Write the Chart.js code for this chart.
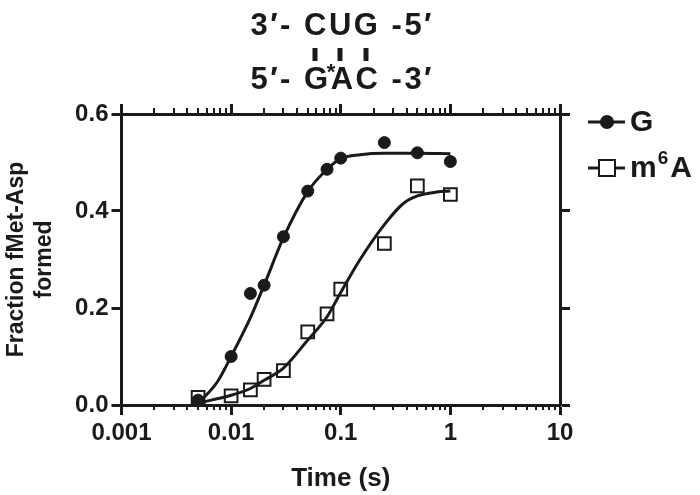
<!DOCTYPE html>
<html lang="en">
<head>
    <meta charset="UTF-8">
    <title>Fraction fMet-Asp formed</title>
    <script src="https://cdn.jsdelivr.net/npm/chart.js"></script>
    <style>
        html, body { margin: 0; padding: 0; background: #fff; }
    </style>
</head>
<body>
    <canvas id="kineticsChart" width="700" height="495"></canvas>
    <script>
        // measured points (time in s, fraction formed)
        const timeG = [0.005, 0.01, 0.015, 0.02, 0.03, 0.05, 0.075, 0.1, 0.25, 0.5, 1];
        const fracG = [0.01, 0.10, 0.23, 0.247, 0.347, 0.441, 0.486, 0.509, 0.541, 0.520, 0.502];
        const timeM6A = [0.005, 0.01, 0.015, 0.02, 0.03, 0.05, 0.075, 0.1, 0.25, 0.5, 1];
        const fracM6A = [0.016, 0.019, 0.031, 0.053, 0.071, 0.151, 0.188, 0.239, 0.333, 0.452, 0.434];

        // fitted curves
        const fitTimeG = [0.005, 0.0075, 0.01, 0.015, 0.02, 0.03, 0.05, 0.075, 0.1, 0.15, 0.25, 0.5, 1];
        const fitFracG = [0.003, 0.048, 0.10, 0.18, 0.247, 0.345, 0.44, 0.486, 0.508, 0.516, 0.519, 0.519, 0.518];
        const fitTimeM6A = [0.005, 0.01, 0.015, 0.02, 0.03, 0.05, 0.075, 0.1, 0.15, 0.25, 0.37, 0.5, 0.75, 1];
        const fitFracM6A = [0.004, 0.02, 0.034, 0.051, 0.076, 0.134, 0.182, 0.232, 0.30, 0.372, 0.415, 0.431, 0.439, 0.441];

        const decadeTicks = [0.001, 0.01, 0.1, 1, 10];
        const minorSteps = [2, 3, 4, 5, 6, 7, 8, 9];
        const yTicks = [0, 0.2, 0.4, 0.6];

        const INK = '#1a1a1a';
        const FONT = '"Liberation Sans", Arial, sans-serif';

        const toPoints = (xs, ys) => xs.map((x, i) => ({ x: x, y: ys[i] }));

        // small ticks between decades, on top and bottom axes
        const minorTicks = {
            id: 'minorTicks',
            afterDraw(chart) {
                const { ctx, chartArea } = chart;
                const xs = chart.scales.x;
                ctx.save();
                ctx.strokeStyle = INK;
                ctx.lineWidth = 2;
                decadeTicks.slice(0, -1).forEach(d => {
                    minorSteps.forEach(m => {
                        const px = Math.round(xs.getPixelForValue(d * m));
                        ctx.beginPath();
                        ctx.moveTo(px, chartArea.bottom);
                        ctx.lineTo(px, chartArea.bottom + 5);
                        ctx.moveTo(px, chartArea.top);
                        ctx.lineTo(px, chartArea.top - 6);
                        ctx.stroke();
                    });
                });
                ctx.restore();
            }
        };

        // draws a row of characters with a little extra spacing, returns char centres
        function spacedRow(ctx, chars, cx, baseline, gap) {
            const widths = chars.map(c => ctx.measureText(c).width);
            const total = widths.reduce((a, b) => a + b, 0) + gap * (chars.length - 1);
            let x = cx - total / 2;
            const centres = [];
            chars.forEach((c, i) => {
                ctx.fillText(c, x, baseline);
                centres.push(x + widths[i] / 2);
                x += widths[i] + gap;
            });
            return centres;
        }

        // base-pair diagram above the plot
        const duplexHeader = {
            id: 'duplexHeader',
            afterDraw(chart) {
                const ctx = chart.ctx;
                const cx = 341;
                ctx.save();
                ctx.fillStyle = INK;
                ctx.strokeStyle = INK;
                ctx.font = 'bold 31px ' + FONT;
                ctx.textBaseline = 'alphabetic';

                const top = spacedRow(ctx, ['3', '\u2032', '-', ' ', 'C', 'U', 'G', ' ', '-', '5', '\u2032'], cx, 35, 2.5);
                const bottom = spacedRow(ctx, ['5', '\u2032', '-', ' ', 'G', 'A', 'C', ' ', '-', '3', '\u2032'], cx, 89, 2.5);

                // pairing bars under C, U, G
                ctx.lineWidth = 5;
                [4, 5, 6].forEach(i => {
                    const bx = Math.round(top[i]);
                    ctx.beginPath();
                    ctx.moveTo(bx, 48);
                    ctx.lineTo(bx, 61);
                    ctx.stroke();
                });

                // asterisk marking the modified base
                ctx.font = 'bold 22px ' + FONT;
                ctx.textAlign = 'center';
                ctx.fillText('*', (bottom[4] + bottom[5]) / 2 + 2, 79);
                ctx.restore();
            }
        };

        // legend drawn beside the plot (line + marker + label)
        const sideLegend = {
            id: 'sideLegend',
            afterDraw(chart) {
                const ctx = chart.ctx;
                ctx.save();
                ctx.strokeStyle = INK;
                ctx.lineWidth = 3;

                // G
                ctx.beginPath();
                ctx.moveTo(588, 122);
                ctx.lineTo(625, 122);
                ctx.stroke();
                ctx.fillStyle = INK;
                ctx.beginPath();
                ctx.arc(607, 122, 7, 0, Math.PI * 2);
                ctx.fill();

                // m6A
                ctx.beginPath();
                ctx.moveTo(588, 168);
                ctx.lineTo(625, 168);
                ctx.stroke();
                ctx.fillStyle = '#fff';
                ctx.fillRect(599, 160, 16, 16);
                ctx.lineWidth = 2;
                ctx.strokeRect(599, 160, 16, 16);

                ctx.fillStyle = INK;
                ctx.font = 'bold 30px ' + FONT;
                ctx.fillText('G', 630, 131);
                ctx.fillText('m', 630, 177);
                const mw = ctx.measureText('m').width;
                ctx.font = 'bold 19px ' + FONT;
                ctx.fillText('6', 631 + mw, 164);
                const sw = ctx.measureText('6').width;
                ctx.font = 'bold 30px ' + FONT;
                ctx.fillText('A', 633 + mw + sw, 177);
                ctx.restore();
            }
        };

        const decadeLabel = v => {
            if (v === 0.001) return '0.001';
            if (v === 0.01) return '0.01';
            if (v === 0.1) return '0.1';
            if (v === 1) return '1';
            if (v === 10) return '10';
            return '';
        };

        const xBase = {
            type: 'logarithmic',
            min: 0.001,
            max: 10,
            afterBuildTicks: scale => { scale.ticks = decadeTicks.map(v => ({ value: v })); },
            grid: { drawOnChartArea: false, tickLength: 10, tickWidth: 3, tickColor: INK },
            border: { display: true, width: 3, color: INK }
        };

        const yBase = {
            min: 0,
            max: 0.6,
            afterBuildTicks: scale => { scale.ticks = yTicks.map(v => ({ value: v })); },
            grid: { drawOnChartArea: false, tickLength: 10, tickWidth: 3, tickColor: INK },
            border: { display: true, width: 3, color: INK }
        };

        const ctx = document.getElementById('kineticsChart').getContext('2d');
        new Chart(ctx, {
            type: 'scatter',
            data: {
                datasets: [
                    {
                        label: 'G fit',
                        data: toPoints(fitTimeG, fitFracG),
                        showLine: true,
                        pointRadius: 0,
                        borderColor: INK,
                        borderWidth: 3,
                        cubicInterpolationMode: 'monotone'
                    },
                    {
                        label: 'm6A fit',
                        data: toPoints(fitTimeM6A, fitFracM6A),
                        showLine: true,
                        pointRadius: 0,
                        borderColor: INK,
                        borderWidth: 3,
                        cubicInterpolationMode: 'monotone'
                    },
                    {
                        label: 'G',
                        data: toPoints(timeG, fracG),
                        pointStyle: 'circle',
                        pointRadius: 6,
                        backgroundColor: INK,
                        borderColor: INK,
                        borderWidth: 1
                    },
                    {
                        label: 'm6A',
                        data: toPoints(timeM6A, fracM6A),
                        pointStyle: 'rect',
                        pointRadius: 9,
                        backgroundColor: '#fff',
                        borderColor: INK,
                        borderWidth: 2
                    }
                ]
            },
            options: {
                responsive: false,
                animation: false,
                devicePixelRatio: 1,
                layout: { padding: { top: 104, right: 130, left: 0, bottom: 0 } },
                plugins: {
                    legend: { display: false },
                    tooltip: { enabled: false }
                },
                scales: {
                    x: Object.assign({}, xBase, {
                        position: 'bottom',
                        ticks: {
                            callback: decadeLabel,
                            color: INK,
                            padding: 4,
                            maxRotation: 0,
                            autoSkip: false,
                            font: { family: FONT, size: 24, weight: 'bold' }
                        },
                        title: {
                            display: true,
                            text: 'Time (s)',
                            color: INK,
                            padding: { top: 11, bottom: 1 },
                            font: { family: FONT, size: 26, weight: 'bold' }
                        }
                    }),
                    xTop: Object.assign({}, xBase, {
                        position: 'top',
                        ticks: { display: false }
                    }),
                    y: Object.assign({}, yBase, {
                        position: 'left',
                        ticks: {
                            callback: v => v.toFixed(1),
                            color: INK,
                            padding: 3,
                            font: { family: FONT, size: 24, weight: 'bold' }
                        },
                        title: {
                            display: true,
                            text: ['Fraction fMet-Asp', 'formed'],
                            color: INK,
                            padding: { top: 3, bottom: 13 },
                            font: { family: FONT, size: 23, weight: 'bold', lineHeight: 1.22 }
                        }
                    }),
                    yRight: Object.assign({}, yBase, {
                        position: 'right',
                        ticks: { display: false }
                    })
                }
            },
            plugins: [minorTicks, duplexHeader, sideLegend]
        });
    </script>
</body>
</html>
